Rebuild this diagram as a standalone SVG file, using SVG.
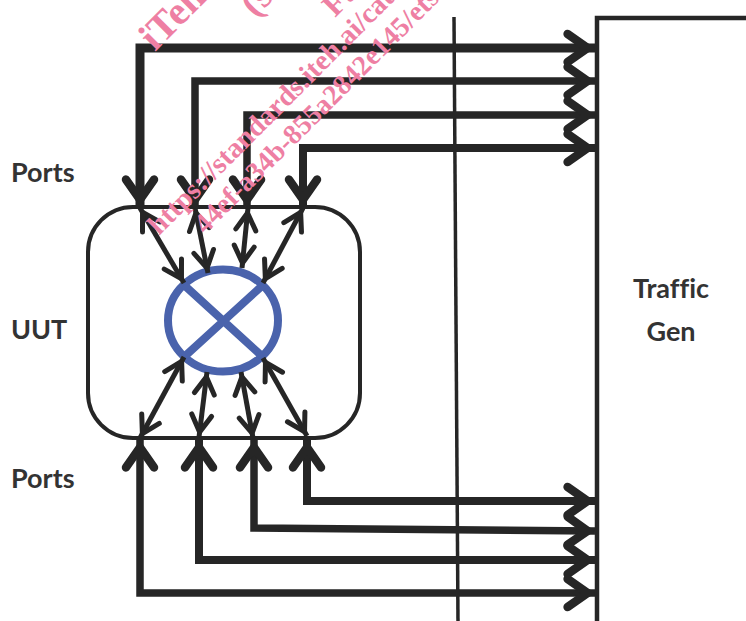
<svg xmlns="http://www.w3.org/2000/svg" width="746" height="621" viewBox="0 0 746 621">
<style>
.c{fill:none;stroke:#262626;stroke-linejoin:miter}
.b{marker-start:url(#big);marker-end:url(#big)}
.d{stroke-width:5;marker-start:url(#small);marker-end:url(#small)}
.l{font-family:Lato,"Liberation Sans",sans-serif;font-weight:700;font-size:27px;fill:#333;font-variant-ligatures:none}
.w{font-family:"Liberation Serif",serif;font-weight:700;fill:#ee7fa3}
</style>
<defs>
<marker id="big" markerUnits="userSpaceOnUse" markerWidth="60" markerHeight="50" refX="47.4" refY="25" orient="auto-start-reverse" overflow="visible">
<path d="M20,11 L40,25 L20,39" fill="none" stroke="#262626" stroke-width="8.5" stroke-linecap="round" stroke-linejoin="miter"/>
</marker>
<marker id="small" markerUnits="userSpaceOnUse" markerWidth="40" markerHeight="30" refX="30" refY="15" orient="auto-start-reverse" overflow="visible">
<path d="M8,5 L25,15 L8,25" fill="none" stroke="#262626" stroke-width="5" stroke-linecap="round" stroke-linejoin="miter"/>
</marker>
</defs>
<rect width="746" height="621" fill="#fff"/>
<g id="divider"><path class="c" stroke-width="3.5" d="M454,17 L458,621"/></g>
<g id="traffic-gen">
<path class="c" stroke-width="4.5" d="M746,18 H597 V621"/>
<text class="l" x="671" y="298" text-anchor="middle">Traffic</text>
<text class="l" x="671" y="341" text-anchor="middle">Gen</text>
</g>
<g id="uut">
<rect class="c" stroke-width="4" x="88" y="207" width="272" height="231" rx="45" ry="45"/>
<text class="l" x="11" y="339">UUT</text>
</g>
<g id="switch" fill="none" stroke="#4a63ac" stroke-width="8">
<ellipse cx="223" cy="320.5" rx="55" ry="51"/>
<path d="M184,285 L263,357 M263,285 L184,357"/>
</g>
<g id="ports-top"><text class="l" x="11" y="182">Ports</text></g>
<g id="ports-bottom"><text class="l" x="11" y="488">Ports</text></g>
<g id="connectors">
<polyline class="c b" stroke-width="9" points="140,207 140,48 595,48"/>
<polyline class="c b" stroke-width="7.5" points="195,207 195,81 595,81"/>
<polyline class="c b" stroke-width="7.5" points="247,207 247,115 595,115"/>
<polyline class="c b" stroke-width="8" points="303,207 303,148 595,148"/>
<polyline class="c b" stroke-width="8" points="307,440 307,501 595,501"/>
<polyline class="c b" stroke-width="7.5" points="254,440 254,528 595,531"/>
<polyline class="c b" stroke-width="8" points="199,440 199,560 595,560"/>
<polyline class="c b" stroke-width="7.5" points="140,440 140,593 595,593"/>
<line class="c d" x1="140" y1="208" x2="184" y2="283"/>
<line class="c d" x1="195" y1="208" x2="208" y2="273"/>
<line class="c d" x1="248" y1="208" x2="242" y2="268"/>
<line class="c d" x1="303" y1="208" x2="263" y2="283"/>
<line class="c d" x1="140" y1="438" x2="184" y2="357"/>
<line class="c d" x1="199" y1="437" x2="207" y2="372"/>
<line class="c d" x1="253" y1="438" x2="241" y2="372"/>
<line class="c d" x1="307" y1="436" x2="263" y2="358"/>
</g>
<g id="watermark" class="w">
<text font-size="40" transform="translate(155,52) rotate(-45)">iTeh</text>
<text font-size="38" transform="translate(255,18) rotate(-45)">(s</text>
<text font-size="32" transform="translate(335,18) rotate(-45)">Fu</text>
<text font-size="28.5" transform="translate(159,236) rotate(-45)">https://standards.iteh.ai/cata</text>
<text font-size="28" transform="translate(205,235) rotate(-45)">44ef-a34b-855a2842e145/ets</text>
</g>
</svg>
